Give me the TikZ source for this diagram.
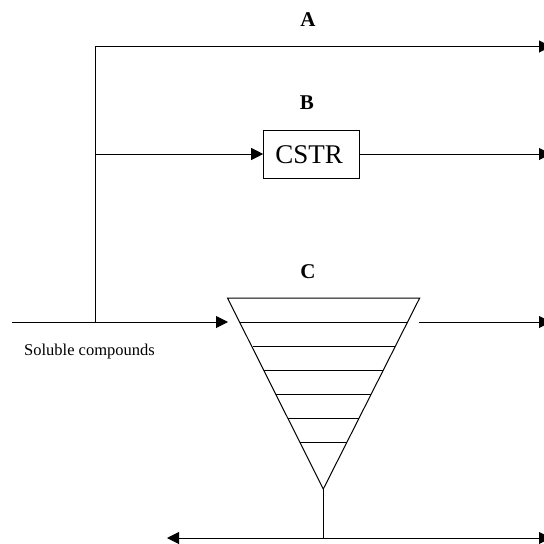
\documentclass[tikz,border=0pt]{standalone}
\usepackage{fontspec}
\setmainfont{Liberation Serif}
\usetikzlibrary{arrows.meta}
\tikzset{
  ln/.style={draw=black,line width=1pt},
  flow/.style={ln,-{Triangle[length=12pt,width=12pt]}},
  lbl/.style={inner sep=0pt,font=\fontsize{21}{24}\bfseries\selectfont},
  boxn/.style={draw=black,line width=1pt,minimum width=96pt,minimum height=47.5pt,inner sep=0pt,font=\fontsize{27}{30}\selectfont}
}
\begin{document}
\begin{tikzpicture}[x=1pt,y=-1pt]
\useasboundingbox (0,0) rectangle (544,544);
\clip (0,0) rectangle (544,544);
\coordinate (corner) at (95.5,46.5);
\coordinate (aout) at (551,46.5);
\coordinate (bj) at (95.5,154);
\coordinate (bout) at (551,154);
\coordinate (start) at (12,322);
\coordinate (cj) at (95.5,322);
\coordinate (cin) at (228,322);
\coordinate (cfrom) at (419,322);
\coordinate (cout) at (551,322);
\coordinate (fl) at (227.5,298);
\coordinate (fr) at (419.7,298);
\coordinate (fb) at (323.3,489);
\coordinate (bot) at (323.3,538);
\coordinate (botl) at (167,538);
\coordinate (botr) at (551,538);
\node[boxn] (cstr) at (311.7,154.3) {CSTR\hspace{5pt}\mbox{}};
\node[lbl] (la) at (308,19.5) {A};
\node[lbl] (lb) at (307,103) {B};
\node[lbl] (lc) at (308,272) {C};
\node[inner sep=0pt,font=\fontsize{16.5}{18}\selectfont] (sol) at (89.5,352) {Soluble compounds};
\draw[flow] (cj) -- (corner) -- (aout);
\draw[flow] (bj) -- (bj -| cstr.west);
\draw[flow] (bj -| cstr.east) -- (bout);
\draw[flow] (start) -- (cin);
\draw[flow] (cfrom) -- (cout);
\draw[ln,line join=miter] (fl) -- (fr) -- (fb) -- cycle;
\foreach \y/\a/\b in {322/240/407.5,346/252.5/395,370/264/383,394/276/371,418/288/359,442/300/347}
  \draw[ln] (\a,\y) -- (\b,\y);
\draw[ln] (fb) -- (bot);
\draw[flow] (bot) -- (botl);
\draw[flow] (bot) -- (botr);
\end{tikzpicture}
\end{document}
